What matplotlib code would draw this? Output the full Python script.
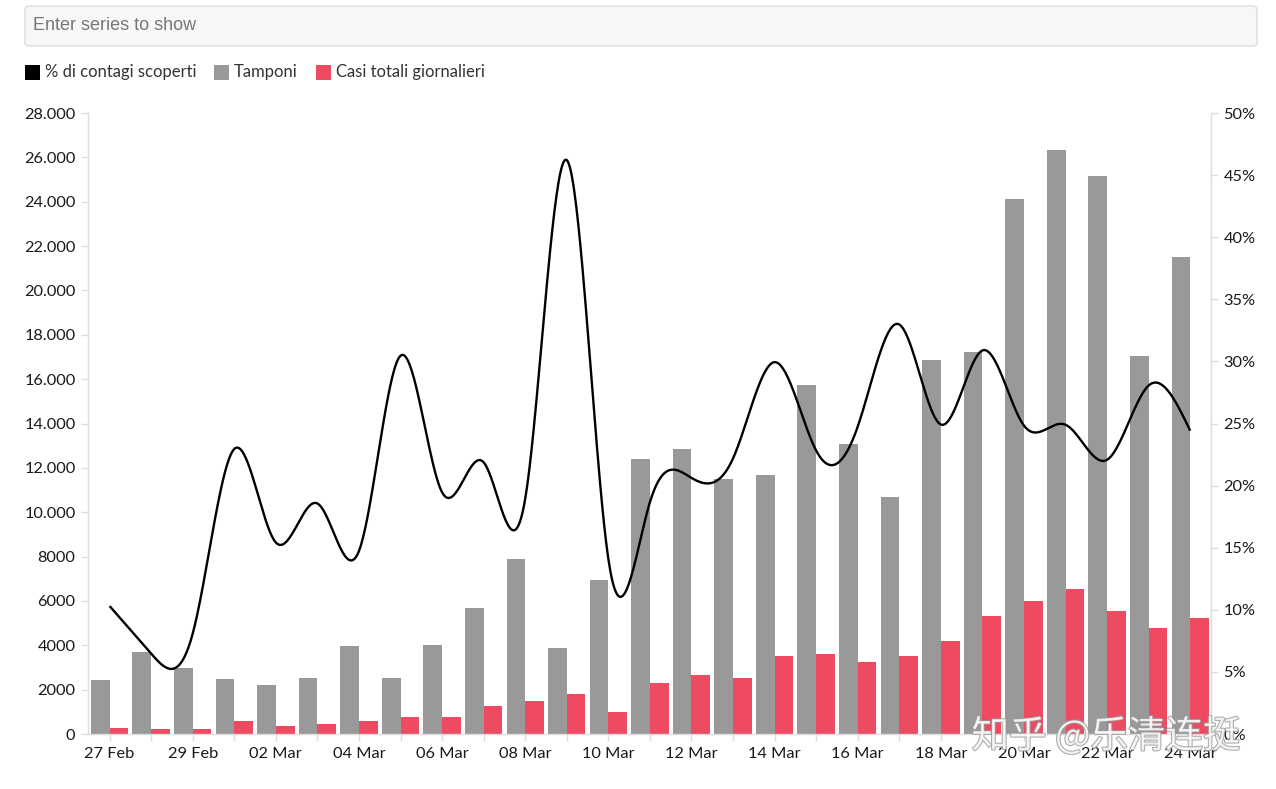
import numpy as np
import matplotlib
matplotlib.use("Agg")
import matplotlib.pyplot as plt
from matplotlib.patches import FancyBboxPatch, Rectangle
from matplotlib.ticker import FuncFormatter, MultipleLocator
import matplotlib.patheffects as pe

# ---------------- data ----------------
days = ["27 Feb", "28 Feb", "29 Feb", "01 Mar", "02 Mar", "03 Mar", "04 Mar", "05 Mar",
        "06 Mar", "07 Mar", "08 Mar", "09 Mar", "10 Mar", "11 Mar", "12 Mar", "13 Mar",
        "14 Mar", "15 Mar", "16 Mar", "17 Mar", "18 Mar", "19 Mar", "20 Mar", "21 Mar",
        "22 Mar", "23 Mar", "24 Mar"]
tamponi = [2427, 3681, 2966, 2466, 2218, 2511, 3981, 2525, 3997, 5703, 7875, 3889, 6935,
           12393, 12857, 11477, 11682, 15729, 13063, 10695, 16884, 17236, 24109, 26336,
           25180, 17066, 21496]
casi = [250, 238, 240, 566, 342, 466, 587, 769, 778, 1247, 1492, 1797, 977, 2313, 2651,
        2547, 3497, 3590, 3233, 3526, 4207, 5322, 5986, 6557, 5560, 4789, 5249]
pct = [10.30, 6.47, 8.09, 22.95, 15.42, 18.56, 14.74, 30.46, 19.46, 21.87, 18.95, 46.21,
       14.09, 18.66, 20.62, 22.19, 29.94, 22.82, 24.75, 32.97, 24.92, 30.88, 24.83, 24.90,
       22.08, 28.06, 24.42]
series_names = ["% di contagi scoperti", "Tamponi", "Casi totali giornalieri"]

GRAY = "#999999"
RED = "#ee4b63"
AXC = "#dddddd"
TXT = "#1a1a1a"
FONT = "Lato"

W, H = 1276, 789
fig = plt.figure(figsize=(W / 100, H / 100), dpi=100)
fig.patch.set_facecolor("white")

# axes placement (pixel-based)
L, R, T, B = 88, 1211, 113, 734
ax = fig.add_axes([L / W, 1 - B / H, (R - L) / W, (B - T) / H])
ax2 = ax.twinx()

x = np.arange(len(days))
bw = 0.45
ax.bar(x - bw, tamponi, width=bw, align="edge", color=GRAY, zorder=2)
ax.bar(x, casi, width=bw, align="edge", color=RED, zorder=2)

# natural cubic spline for the line (like d3.curveNatural)
y = np.array(pct, dtype=float)
n = len(y)
A = np.zeros((n, n)); rhs = np.zeros(n)
A[0, 0] = 1; A[-1, -1] = 1
for i in range(1, n - 1):
    A[i, i - 1] = 1; A[i, i] = 4; A[i, i + 1] = 1
    rhs[i] = 6 * (y[i + 1] - 2 * y[i] + y[i - 1])
M = np.linalg.solve(A, rhs)
xs, ys = [], []
for i in range(n - 1):
    t = np.linspace(0, 1, 40, endpoint=(i == n - 2))
    seg = ((1 - t) * y[i] + t * y[i + 1]
           + ((1 - t) ** 3 - (1 - t)) * M[i] / 6 + (t ** 3 - t) * M[i + 1] / 6)
    xs.append(x[i] + t); ys.append(seg)
xs = np.concatenate(xs); ys = np.concatenate(ys)

ax.set_zorder(1); ax.patch.set_visible(False)
ax2.set_zorder(2)
ax2.plot(xs, ys, color="black", lw=1.7, solid_capstyle="butt")

ax.set_xlim(-0.52, 26.5)
ax.set_ylim(0, 28000)
ax2.set_ylim(0, 50)

def fmt_left(v, pos):
    v = int(round(v))
    if v >= 10000:
        return f"{v:,}".replace(",", ".")
    return str(v)

ax.yaxis.set_major_locator(MultipleLocator(2000))
ax.yaxis.set_major_formatter(FuncFormatter(fmt_left))
ax2.yaxis.set_major_locator(MultipleLocator(5))
ax2.yaxis.set_major_formatter(FuncFormatter(lambda v, p: f"{int(round(v))}%"))

ax.set_xticks(x)
ax.set_xticklabels([d if i % 2 == 0 else "" for i, d in enumerate(days)])

for a in (ax, ax2):
    a.spines["top"].set_visible(False)
    for s in ("left", "right", "bottom"):
        a.spines[s].set_color(AXC)
        a.spines[s].set_linewidth(1.0)
ax.spines["right"].set_visible(False)
ax2.spines["left"].set_visible(False)
ax2.spines["bottom"].set_visible(False)

ax.tick_params(axis="y", length=5, width=1, color=AXC, labelsize=11.8, labelcolor=TXT, pad=4)
ax.tick_params(axis="x", length=5, width=1, color=AXC, labelsize=11.8, labelcolor=TXT, pad=4)
ax2.tick_params(axis="y", length=5, width=1, color=AXC, labelsize=11.8, labelcolor=TXT, pad=4)
for lab in ax.get_xticklabels() + ax.get_yticklabels() + ax2.get_yticklabels():
    lab.set_fontfamily(FONT)

# search box
box = FancyBboxPatch((25, H - 46), 1232, 40, boxstyle="round,pad=0,rounding_size=4",
                     transform=None, facecolor="#f7f7f7", edgecolor="#dcdcdc", lw=1)
fig.patches.append(box)
fig.text(33 / W, 1 - 25 / H, "Enter series to show", fontsize=13, color="#777777",
         family="Liberation Sans", va="center", ha="left")

# legend
leg_colors = ["black", GRAY, RED]
leg_x = [25, 214, 316]
for name, c, lx in zip(series_names, leg_colors, leg_x):
    fig.patches.append(Rectangle((lx, H - 80), 15, 15, transform=None, facecolor=c, edgecolor="none"))
    fig.text((lx + 20) / W, 1 - 72 / H, name, fontsize=12, color="#333333", family=FONT,
             va="center", ha="left")

# watermark
fig.text(1106 / W, 1 - 737 / H, "知乎 @乐清连挺", fontsize=27, color="white", alpha=0.8,
         family=["Noto Sans CJK SC", "DejaVu Sans"], ha="center", va="center",
         path_effects=[pe.withStroke(linewidth=1.5, foreground="#999999")], zorder=10)

fig.savefig("out.png", dpi=100)
